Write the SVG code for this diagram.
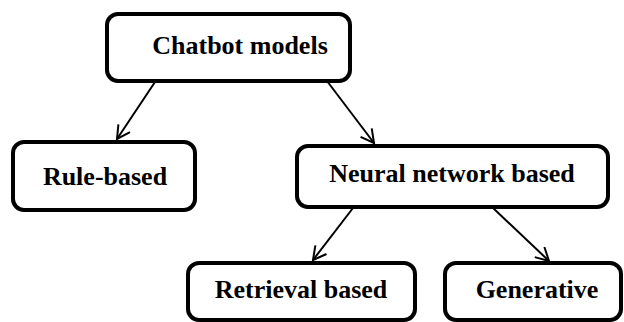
<svg xmlns="http://www.w3.org/2000/svg" width="624" height="322" viewBox="0 0 624 322">
<style>
.box{fill:#fff;stroke:#000;stroke-width:4}
.lbl{font-family:"Liberation Serif","Times New Roman",serif;font-weight:bold;font-size:26px;text-anchor:middle;fill:#000}
.edge{stroke:#000;stroke-width:2;fill:none;marker-end:url(#arr)}
</style>
<defs>
<marker id="arr" viewBox="0 0 16 16" refX="14" refY="8" markerWidth="16" markerHeight="16" markerUnits="userSpaceOnUse" orient="auto">
<path d="M1,1 L14,8 L1,15" fill="none" stroke="#000" stroke-width="2"/>
</marker>
</defs>
<rect width="624" height="322" fill="#fff"/>
<g id="connectors">
<line class="edge" x1="155" y1="82" x2="117" y2="139"/>
<line class="edge" x1="327" y1="81" x2="374" y2="143"/>
<line class="edge" x1="353" y1="208" x2="313" y2="260"/>
<line class="edge" x1="492" y1="207" x2="549" y2="261"/>
</g>
<g id="chatbot">
<rect class="box" x="107" y="14" width="243" height="67" rx="11"/>
<text class="lbl" x="240" y="54">Chatbot models</text>
</g>
<g id="rule">
<rect class="box" x="13" y="142" width="182" height="68" rx="11"/>
<text class="lbl" x="105" y="185">Rule-based</text>
</g>
<g id="neural">
<rect class="box" x="297" y="146" width="311" height="61" rx="11"/>
<text class="lbl" x="452" y="182">Neural network based</text>
</g>
<g id="retrieval">
<rect class="box" x="188" y="263" width="227" height="57" rx="11"/>
<text class="lbl" x="301" y="298">Retrieval based</text>
</g>
<g id="generative">
<rect class="box" x="445" y="263" width="176" height="57" rx="11"/>
<text class="lbl" x="537" y="298">Generative</text>
</g>
</svg>
